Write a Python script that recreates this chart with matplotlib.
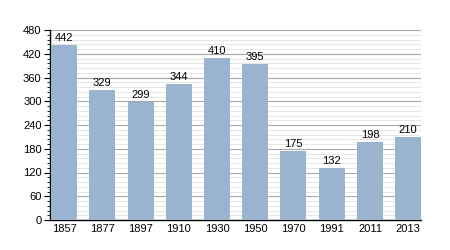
import numpy as np
import matplotlib
import matplotlib.pyplot as plt
from matplotlib.ticker import MultipleLocator

years = ["1857", "1877", "1897", "1910", "1930", "1950", "1970", "1991", "2011", "2013"]
population = [442, 329, 299, 344, 410, 395, 175, 132, 198, 210]

matplotlib.rc("font", family=["Liberation Sans", "DejaVu Sans"], size=8)

fig = plt.figure(figsize=(4.5, 2.5), dpi=100)
ax = fig.add_axes([0.111, 0.12, 0.825, 0.76])

x = np.arange(len(years))
width = 0.68
ax.bar(x, population, width=width, color="#9ab3cf", zorder=3)
for xi, v in zip(x, population):
    ax.text(xi, v + 4, str(v), ha="center", va="bottom", fontsize=8, zorder=4)

ax.set_xlim(-width / 2 - 0.03, len(years) - 1 + width / 2)
ax.set_ylim(0, 480)
ax.yaxis.set_major_locator(MultipleLocator(60))
ax.yaxis.set_minor_locator(MultipleLocator(12))
ax.grid(axis="y", which="major", color="#a8a8a8", linewidth=0.8, zorder=0)
ax.grid(axis="y", which="minor", color="#e2e2e2", linewidth=0.6, zorder=0)
ax.set_xticks(x)
ax.set_xticklabels(years)
ax.tick_params(axis="x", length=0, pad=3)
ax.tick_params(axis="y", which="major", length=4, width=0.8, pad=2)
ax.tick_params(axis="y", which="minor", length=2, width=0.6)
for s in ["top", "right"]:
    ax.spines[s].set_visible(False)
ax.spines["left"].set_linewidth(1)
ax.spines["bottom"].set_linewidth(1)

plt.savefig("out.png", dpi=100)
